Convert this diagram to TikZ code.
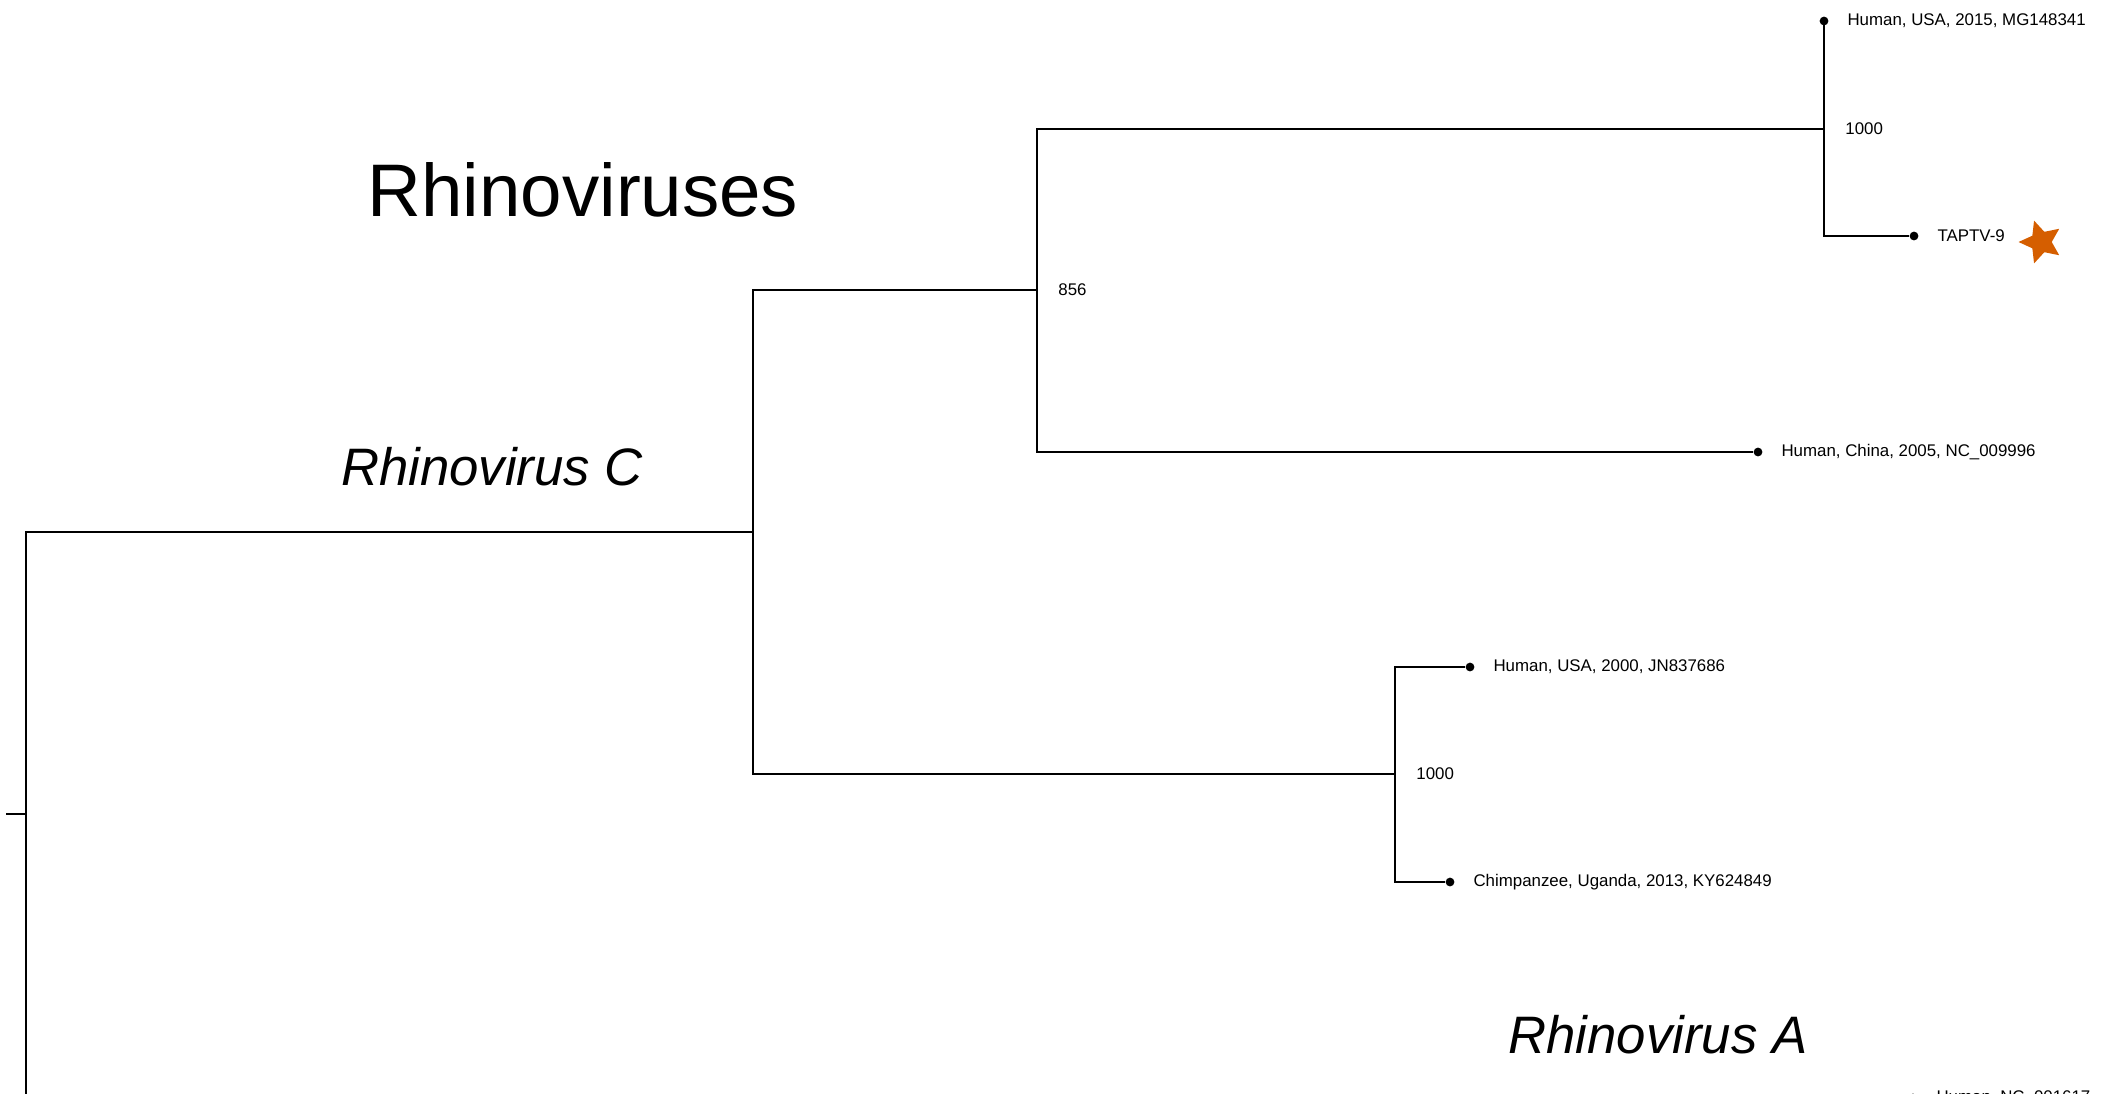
\documentclass[tikz,border=0pt]{standalone}
\usepackage{fontspec}
\setmainfont{Liberation Sans}
\usetikzlibrary{shapes.geometric}
\definecolor{starorange}{HTML}{D55E00}

\begin{document}
\begin{tikzpicture}[x=0.02cm, y=-0.02cm]
    \tikzstyle{branch} = [line width=1.55pt]
    \tikzstyle{tip} = [fill, circle, inner sep=0pt, minimum size=5pt]
    \tikzstyle{tiplabel} = [font=\fontsize{9.6}{11}\selectfont, inner sep=0pt, label distance=10.5pt]
    \tikzstyle{support} = [font=\fontsize{9.6}{11}\selectfont, inner sep=0pt, label distance=12pt]
    \useasboundingbox (0,0) rectangle (2106,1093);

    % Titles
    \node [font=\fontsize{42.4}{48}\selectfont, anchor=base] (Title) at (583,216) {Rhinoviruses};
    \node [font=\fontsize{30}{34}\selectfont\itshape, anchor=base] (TitleC) at (492,485) {Rhinovirus C};
    \node [font=\fontsize{30}{34}\selectfont\itshape, anchor=base] (TitleA) at (1658,1053) {Rhinovirus A};

    % Root
    \coordinate (Stub) at (6,814);
    \coordinate (Root) at (26,814);
    \coordinate (RootA) at (26,1160);
    \draw [branch] (Stub) -- (Root);
    \draw [branch] (Root) -- (RootA);

    % Rhinovirus C clade
    \coordinate (RhinoC) at (753,532);
    \draw [branch] (Root) |- (RhinoC);

    % Upper C subclade
    \coordinate [label={[support]0:856}] (N856) at (1037,290);
    \draw [branch] (RhinoC) |- (N856);

    \coordinate [label={[support]0:1000}] (N1000a) at (1824,129);
    \draw [branch] (N856) |- (N1000a);

    \node [tip, label={[tiplabel]0:Human, USA, 2015, MG148341}] (MG148341) at (1824,21) {};
    \draw [branch] (N1000a) |- (MG148341);

    \node [tip, label={[tiplabel]0:TAPTV-9}] (TAPTV) at (1914,236) {};
    \draw [branch] (N1000a) |- (TAPTV);
    \node [star, star points=5, star point ratio=2.1, fill=starorange, rotate=90, inner sep=0pt, minimum size=0.9cm] (Star) at (2041,242) {};

    \node [tip, label={[tiplabel]0:Human, China, 2005, NC\_009996}] (NC009996) at (1758,452) {};
    \draw [branch] (N856) |- (NC009996);

    % Lower C subclade
    \coordinate [label={[support]0:1000}] (N1000b) at (1395,774);
    \draw [branch] (RhinoC) |- (N1000b);

    \node [tip, label={[tiplabel]0:Human, USA, 2000, JN837686}] (JN837686) at (1470,667) {};
    \draw [branch] (N1000b) |- (JN837686);

    \node [tip, label={[tiplabel]0:Chimpanzee, Uganda, 2013, KY624849}] (KY624849) at (1450,882) {};
    \draw [branch] (N1000b) |- (KY624849);

    % Rhinovirus A tip (cut by the page edge)
    \node [tip, label={[tiplabel]0:Human, NC\_001617}] (NC001617) at (1913,1098) {};
\end{tikzpicture}
\end{document}
